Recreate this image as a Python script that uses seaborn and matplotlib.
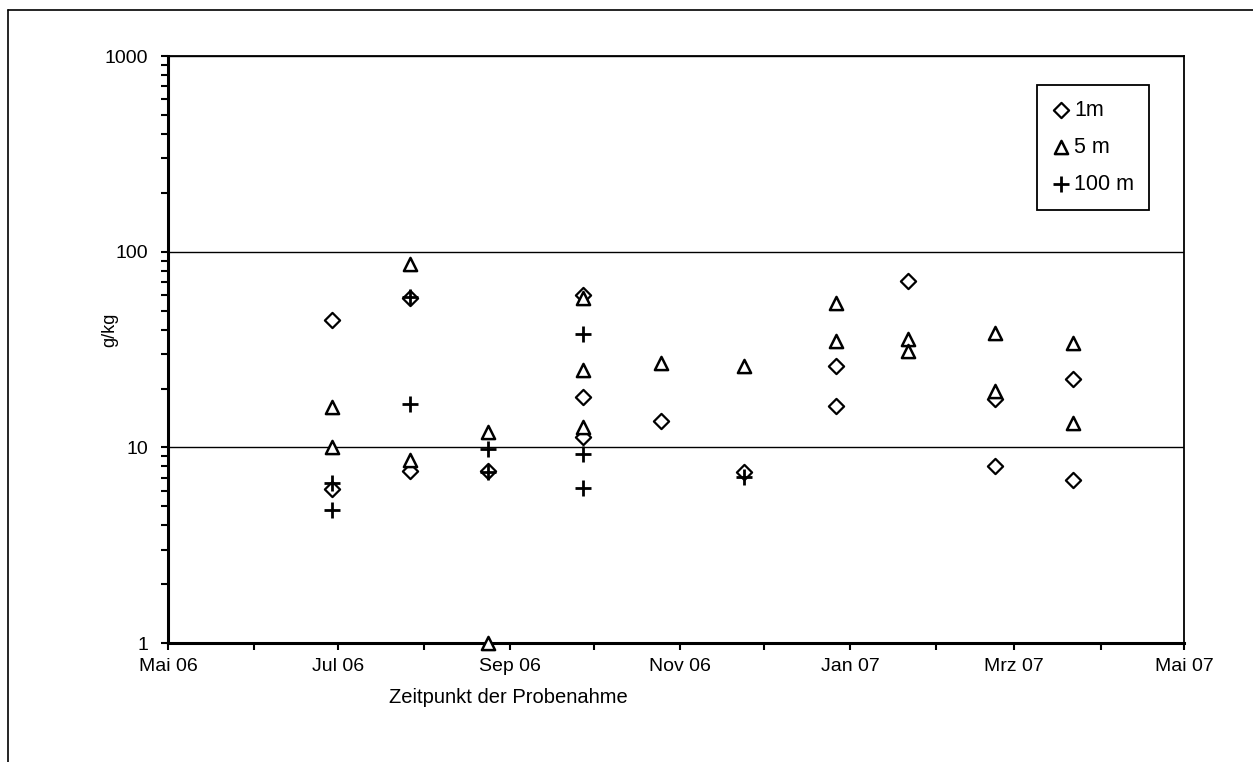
import pandas as pd
import matplotlib
matplotlib.use("Agg")
import matplotlib.pyplot as plt
import matplotlib.dates as mdates
from matplotlib.ticker import FuncFormatter, LogLocator, NullFormatter
from matplotlib.lines import Line2D
import seaborn as sns

# Messwerte (g/kg) je Entfernung
datum_1m = ["2006-06-29", "2006-06-29", "2006-07-27", "2006-07-27", "2006-08-24",
            "2006-09-27", "2006-09-27", "2006-09-27", "2006-10-25", "2006-11-24",
            "2006-12-27", "2006-12-27", "2007-01-22", "2007-02-22", "2007-02-22",
            "2007-03-22", "2007-03-22"]
werte_1m = [45, 6.1, 58, 7.6, 7.6,
            60, 18, 11.3, 13.6, 7.5,
            26, 16.2, 71, 17.6, 8.0,
            22.3, 6.8]

datum_5m = ["2006-06-29", "2006-06-29", "2006-07-27", "2006-07-27", "2006-08-24",
            "2006-08-24", "2006-09-27", "2006-09-27", "2006-09-27", "2006-10-25",
            "2006-11-24", "2006-12-27", "2006-12-27", "2007-01-22", "2007-01-22",
            "2007-02-22", "2007-02-22", "2007-03-22", "2007-03-22"]
werte_5m = [16, 10, 87, 8.6, 12,
            1.0, 58, 25, 12.7, 27,
            26, 55, 35, 36, 31,
            38.5, 19.5, 34, 13.4]

datum_100m = ["2006-06-29", "2006-06-29", "2006-07-27", "2006-07-27", "2006-08-24",
              "2006-08-24", "2006-09-27", "2006-09-27", "2006-09-27", "2006-11-24"]
werte_100m = [6.6, 4.8, 59, 16.6, 9.8,
              7.5, 38, 9.3, 6.2, 7.1]

monate = {1: "Jan", 2: "Feb", 3: "Mrz", 4: "Apr", 5: "Mai", 6: "Jun",
          7: "Jul", 8: "Aug", 9: "Sep", 10: "Okt", 11: "Nov", 12: "Dez"}

serien = [
    ("1m", datum_1m, werte_1m, "D", 60, 1.6),
    ("5 m", datum_5m, werte_5m, "^", 90, 1.8),
    ("100 m", datum_100m, werte_100m, "+", 140, 2.0),
]

sns.set_style("ticks")
plt.rcParams["font.family"] = ["Liberation Sans", "DejaVu Sans"]
plt.rcParams["text.color"] = "black"

fig = plt.figure(figsize=(12.53, 7.62), dpi=100)
ax = fig.add_axes([0.134, 0.156, 0.811, 0.7705])

for name, datum, werte, marker, size, lw in serien:
    df = pd.DataFrame({"datum": pd.to_datetime(datum), "wert": werte})
    if marker == "+":
        sns.scatterplot(data=df, x="datum", y="wert", marker=marker, s=size,
                        color="black", linewidth=lw, label=name, ax=ax,
                        clip_on=False, zorder=3)
    else:
        sns.scatterplot(data=df, x="datum", y="wert", marker=marker, s=size,
                        facecolor="white", edgecolor="black", linewidth=lw,
                        label=name, ax=ax, clip_on=False, zorder=3)

ax.set_yscale("log")
ax.set_ylim(1, 1000)
ax.set_xlim(pd.Timestamp("2006-05-01"), pd.Timestamp("2007-05-01"))

ax.xaxis.set_major_locator(mdates.MonthLocator(bymonth=[1, 3, 5, 7, 9, 11]))
ax.xaxis.set_minor_locator(mdates.MonthLocator())
ax.xaxis.set_major_formatter(FuncFormatter(
    lambda v, pos: f"{monate[mdates.num2date(v).month]} {mdates.num2date(v).strftime('%y')}"))

ax.yaxis.set_major_locator(LogLocator(base=10, numticks=5))
ax.yaxis.set_minor_locator(LogLocator(base=10, subs=range(2, 10), numticks=20))
ax.yaxis.set_minor_formatter(NullFormatter())
ax.yaxis.set_major_formatter(FuncFormatter(lambda v, pos: f"{v:g}"))

ax.tick_params(axis="both", which="both", direction="out", color="black",
               length=5, width=1.5, labelsize=14, labelcolor="black")
ax.tick_params(axis="y", which="major", pad=9)
ax.tick_params(axis="x", which="major", pad=6)

for s in ax.spines.values():
    s.set_color("black")
    s.set_linewidth(1.3)
ax.spines["left"].set_linewidth(2.2)
ax.spines["bottom"].set_linewidth(2.2)

ax.grid(axis="y", which="major", color="black", linewidth=1.0)
ax.grid(axis="x", visible=False)

ax.set_xlabel("Zeitpunkt der Probenahme", fontsize=14.5, color="black")
ax.xaxis.set_label_coords(0.335, -0.077)
ax.set_ylabel("g/kg", fontsize=13, color="black")
ax.yaxis.set_label_coords(-0.049, 0.533)

leg = ax.legend(loc="upper left", bbox_to_anchor=(0.855, 0.951), borderaxespad=0,
                frameon=True, fancybox=False, edgecolor="black", framealpha=1,
                fontsize=15.5, handletextpad=0.15, handlelength=0.9,
                labelspacing=0.75, borderpad=0.7)
leg.get_frame().set_linewidth(1.3)

# Rahmen um das Diagramm
fig.add_artist(Line2D([8 / 1253, 8 / 1253], [0, 1 - 10 / 762], color="black", lw=1.2))
fig.add_artist(Line2D([8 / 1253, 1], [1 - 10 / 762, 1 - 10 / 762], color="black", lw=1.2))

fig.savefig("out.png", dpi=100)
